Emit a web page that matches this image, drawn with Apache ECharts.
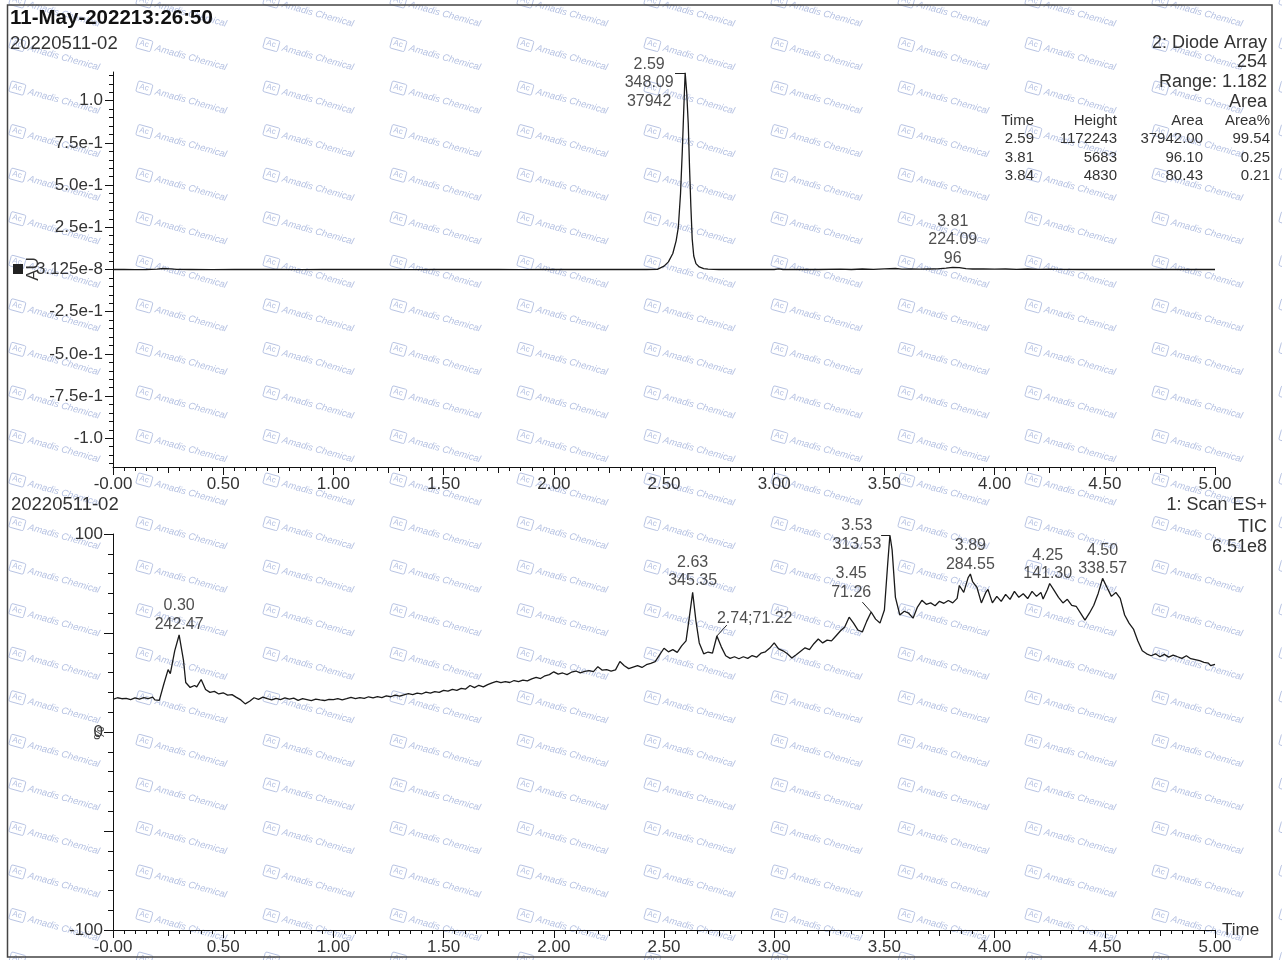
<!DOCTYPE html>
<html><head><meta charset="utf-8">
<script src="https://cdn.jsdelivr.net/npm/echarts@6/dist/echarts.min.js"></script>
<style>html,body{margin:0;padding:0;background:#fff}#c{width:1282px;height:960px}</style>
</head><body><div id="c"></div>
<script>
// ---------- DATA ----------
const dadTime = [0.00,0.05,0.10,0.15,0.20,0.23,0.26,0.29,0.35,0.45,0.55,0.65,0.75,0.85,0.95,1.05,1.15,1.25,1.35,1.45,1.55,1.65,1.75,1.85,1.95,2.05,2.15,2.25,2.35,2.42,2.47,2.50,2.52,2.54,2.555,2.565,2.575,2.583,2.59,2.596,2.603,2.61,2.616,2.622,2.628,2.635,2.645,2.66,2.68,2.70,2.75,2.80,2.85,2.90,2.95,3.00,3.02,3.04,3.10,3.20,3.30,3.35,3.40,3.45,3.50,3.55,3.58,3.62,3.66,3.70,3.74,3.78,3.81,3.84,3.87,3.90,3.95,4.00,4.05,4.10,4.15,4.20,4.25,4.30,4.40,4.50,4.60,4.70,4.80,4.90,5.00];
const dadSignal = [0,0.001,-0.001,0,0.002,0.006,0.004,0.001,0,-0.001,0,0.001,0,-0.001,0,0.001,0,0,-0.001,0,0.001,0,0,-0.001,0,0.001,0,0,0.001,0,0.001,0.02,0.045,0.095,0.17,0.25,0.45,0.70,0.96,1.165,1.05,0.865,0.60,0.37,0.18,0.08,0.035,0.015,0.005,0.002,0,0.001,0,0,0.001,0,0.004,0,0.001,0,0.002,0,0.003,0.001,0.004,0.006,0.002,0.004,0.002,0.003,0.004,0.008,0.013,0.011,0.005,0.003,0.004,0.002,0.003,0.001,0.003,0.001,0.002,0.001,0,0.001,0,0,0.001,0,0];

const ticTime = [0.00,0.02,0.04,0.06,0.08,0.10,0.12,0.14,0.16,0.18,0.19,0.21,0.23,0.25,0.26,0.28,0.30,0.32,0.33,0.35,0.37,0.38,0.40,0.42,0.44,0.46,0.48,0.50,0.52,0.54,0.56,0.58,0.60,0.62,0.64,0.66,0.68,0.70,0.72,0.74,0.76,0.78,0.80,0.82,0.84,0.86,0.88,0.90,0.92,0.94,0.96,0.98,1.00,1.02,1.04,1.06,1.08,1.10,1.12,1.14,1.16,1.18,1.20,1.22,1.24,1.26,1.28,1.30,1.32,1.34,1.36,1.38,1.40,1.42,1.44,1.46,1.48,1.50,1.52,1.54,1.56,1.58,1.60,1.62,1.64,1.66,1.68,1.70,1.72,1.74,1.76,1.78,1.80,1.82,1.84,1.86,1.88,1.90,1.92,1.94,1.96,1.98,2.00,2.02,2.04,2.06,2.08,2.10,2.12,2.14,2.16,2.18,2.20,2.22,2.24,2.26,2.28,2.30,2.32,2.34,2.36,2.38,2.40,2.42,2.44,2.46,2.48,2.50,2.52,2.54,2.56,2.58,2.60,2.615,2.63,2.645,2.66,2.68,2.70,2.72,2.74,2.76,2.78,2.80,2.82,2.84,2.86,2.88,2.90,2.92,2.94,2.96,2.98,3.00,3.02,3.04,3.06,3.08,3.10,3.12,3.14,3.16,3.18,3.20,3.22,3.24,3.26,3.28,3.30,3.32,3.34,3.36,3.38,3.40,3.42,3.44,3.46,3.48,3.50,3.515,3.525,3.535,3.55,3.57,3.59,3.61,3.63,3.65,3.67,3.69,3.71,3.73,3.75,3.77,3.79,3.81,3.83,3.84,3.86,3.88,3.89,3.90,3.92,3.94,3.96,3.97,3.99,4.01,4.03,4.05,4.07,4.09,4.11,4.13,4.15,4.17,4.19,4.21,4.22,4.24,4.25,4.27,4.29,4.31,4.33,4.35,4.37,4.39,4.41,4.43,4.45,4.47,4.49,4.51,4.53,4.55,4.57,4.59,4.61,4.63,4.65,4.67,4.69,4.71,4.73,4.75,4.77,4.79,4.81,4.83,4.85,4.87,4.89,4.91,4.93,4.95,4.97,4.98,5.00];
const ticSignal = [16.5,17.3,16.8,17.0,16.4,17.2,16.6,17.4,16.9,17.6,16.2,16.0,24.0,31.5,29.5,41.0,49.0,36.0,25.0,22.5,23.5,22.8,26.5,21.5,20.0,20.5,19.2,19.8,18.6,18.9,17.5,16.2,14.2,15.5,17.3,16.5,17.6,16.8,16.2,17.0,16.4,17.2,16.6,17.1,16.0,16.8,16.3,15.8,16.6,16.2,15.9,16.5,16.4,16.9,16.2,16.8,17.5,16.9,17.4,17.0,17.8,17.2,17.9,17.4,18.2,17.8,18.6,18.1,18.8,19.4,18.9,19.6,19.2,20.1,19.6,20.4,20.0,21.0,20.6,21.5,21.0,22.0,21.7,23.5,22.4,23.6,22.8,23.9,24.8,25.6,24.9,25.5,25.0,26.0,25.4,26.2,25.8,26.8,27.6,27.0,28.4,29.0,30.4,29.2,29.8,29.0,30.2,30.8,29.9,30.6,31.0,30.5,33.0,31.2,31.5,30.8,31.4,35.6,33.5,32.0,32.8,33.5,32.6,34.0,34.7,35.5,38.9,42.3,40.5,41.6,40.2,43.5,46.0,58.0,70.5,56.0,45.0,39.5,40.4,39.8,48.5,43.0,38.5,37.2,38.0,37.0,38.0,37.2,38.6,37.8,39.8,40.5,42.4,45.0,42.0,41.0,39.5,37.4,39.0,40.8,42.5,41.6,44.6,47.0,45.0,46.4,46.0,48.5,51.0,53.0,58.0,55.0,51.5,50.5,56.0,60.6,57.0,55.0,61.6,85.0,99.5,92.0,68.0,59.1,61.0,60.0,57.5,63.1,66.5,64.5,65.2,63.8,66.0,65.0,66.4,65.2,67.5,74.0,70.5,78.0,79.8,76.0,73.0,65.2,70.5,72.0,65.2,68.5,66.0,69.5,67.0,71.0,68.0,69.8,67.4,71.0,68.5,70.5,67.2,72.0,75.0,71.5,68.0,65.2,67.0,64.0,63.5,60.0,56.5,60.0,64.0,70.0,77.6,73.0,68.5,70.5,67.5,59.1,55.0,52.0,46.0,41.0,39.5,38.5,39.5,38.0,39.2,37.8,38.8,38.0,37.2,38.5,37.0,36.5,36.0,35.2,34.8,33.5,34.2];

const xTickLabels = ['-0.00','0.50','1.00','1.50','2.00','2.50','3.00','3.50','4.00','4.50','5.00'];
const dadYTicks = [-1, -0.75, -0.5, -0.25, 0, 0.25, 0.5, 0.75, 1];
const dadYLabels = ['-1.0','-7.5e-1','-5.0e-1','-2.5e-1','3.125e-8','2.5e-1','5.0e-1','7.5e-1','1.0'];
const ticYTicks = [-100, 0, 100];
const ticYLabels = ['-100','0','100'];

const dadPeakTime = [2.596, 3.81];
const dadPeakValue = [1.165, 0.013];
const dadPeakText = ['2.59\n348.09\n37942', '3.81\n224.09\n96'];

const ticPeakTime = [0.30, 2.63, 2.74, 3.44, 3.525, 3.89, 4.25, 4.49];
const ticPeakValue = [49, 70.5, 48.5, 60.6, 99.5, 79.8, 75, 77.6];
const ticPeakText = ['0.30\n242.47','2.63\n345.35','2.74;71.22','3.45\n71.26','3.53\n313.53','3.89\n284.55','4.25\n141.30','4.50\n338.57'];

const tableHeader = ['Time','Height','Area','Area%'];
const tableRows = [['2.59','1172243','37942.00','99.54'],['3.81','5683','96.10','0.25'],['3.84','4830','80.43','0.21']];

// ---------- CHART ----------
const FONT = '"Liberation Sans", Arial, sans-serif';
const chart = echarts.init(document.getElementById('c'), null, {renderer:'canvas'});
const zip = (a,b) => a.map((t,i)=>[t,b[i]]);
const G = {left:113, width:1102};

function fmtX(v){ const i = Math.round(v/0.5); return Math.abs(v - i*0.5) < 1e-6 ? xTickLabels[i] : ''; }
function lookup(ticks, labels){ return v => { const i = ticks.findIndex(t=>Math.abs(t-v)<1e-6); return i<0?'':labels[i]; }; }

const dadMinor = []; for (let k=-23;k<=23;k++) dadMinor.push(+(k*0.05).toFixed(2));
const ticMid = [-100,-50,0,50,100];
const xMid = [0.25,0.75,1.25,1.75,2.25,2.75,3.25,3.75,4.25,4.75];

const axisCommon = {
  axisLine:{show:true, onZero:false, lineStyle:{color:'#111', width:1}},
  splitLine:{show:false},
};
function xAxisDef(grid){
  return Object.assign({}, axisCommon, {
    type:'value', gridIndex:grid, min:0, max:5, interval:0.5, position:'bottom',
    axisTick:{show:true, length:8, lineStyle:{color:'#111'}},
    minorTick:{show:true, splitNumber:10, length:4, lineStyle:{color:'#111'}},
    minorSplitLine:{show:false},
    axisLabel:{formatter:fmtX, fontSize:17, color:'#333', fontFamily:FONT, margin:9}
  });
}
function xMidDef(grid){
  return {type:'value', gridIndex:grid, min:0, max:5, position:'bottom', axisLine:{show:false, onZero:false}, splitLine:{show:false},
    axisTick:{show:true, length:6, customValues:xMid, lineStyle:{color:'#111'}}, axisLabel:{show:false}};
}

// watermark
const wm = [];
const wc = '#b6c2e2';
for (let i=0;i<11;i++){
  for (let j=-1;j<22;j++){
    wm.push({type:'group', x:10+127*i, y:43+43.55*j, rotation:-0.27, silent:true, z:-10,
      children:[
        {type:'rect', shape:{x:0,y:-6,width:15,height:11,r:1.5}, style:{fill:'none', stroke:wc, lineWidth:0.9}},
        {type:'text', x:2.5, y:-5, style:{text:'Ac', fontSize:8, fontFamily:FONT, fill:wc}},
        {type:'text', x:19, y:-5, style:{text:'Amadis Chemical', fontSize:9.5, fontFamily:FONT, fontStyle:'italic', fill:wc}}
      ]});
  }
}

function txt(x,y,text,opt){
  opt = opt||{};
  const align = opt.align||'left';
  return {type:'text', x:x, y:y, z:50, silent:true, rotation:opt.rot||0, style:{text:text, fontSize:opt.size||18, fontWeight:opt.weight||'normal',
    fontFamily:FONT, fill:opt.color||'#333', align:align, textAlign:align, verticalAlign:'middle', textVerticalAlign:'middle'}};
}
const texts = [
  txt(10,18,'11-May-202213:26:50',{size:20.5, weight:'bold', color:'#111'}),
  txt(10,44,'20220511-02',{size:18.5}),
  txt(11,505,'20220511-02',{size:18.5}),
  txt(1267,43,'2: Diode Array',{align:'right'}),
  txt(1267,62,'254',{align:'right'}),
  txt(1267,82,'Range: 1.182',{align:'right'}),
  txt(1267,102,'Area',{align:'right'}),
  txt(1267,505,'1: Scan ES+',{align:'right'}),
  txt(1267,527,'TIC',{align:'right'}),
  txt(1267,547,'6.51e8',{align:'right'}),
  txt(1222,930,'Time',{size:17}),
  txt(33,269,'AU',{size:17, align:'center', rot:Math.PI/2}),
  txt(100,733,'%',{size:15, align:'center', rot:Math.PI/2, color:'#444'}),
];
const colRight = [1034,1117,1203,1270];
tableHeader.forEach((h,c)=>texts.push(txt(colRight[c],121,h,{align:'right', size:15})));
tableRows.forEach((row,r)=>row.forEach((v,c)=>texts.push(txt(colRight[c],139+18.5*r,v,{align:'right', size:15}))));

const extras = [
  {type:'rect', z:60, silent:true, shape:{x:7.5,y:5,width:1264.5,height:952}, style:{fill:'none', stroke:'#444', lineWidth:1.5}},
  {type:'rect', z:60, silent:true, shape:{x:13,y:264,width:10,height:10}, style:{fill:'#222'}},
];

const labelBase = {show:true, fontSize:16, lineHeight:18.5, color:'#222', fontFamily:FONT};
const dadLabelStyle = [
  {position:'top', distance:0, offset:[-36,38]},
  {position:'top', distance:0, offset:[0,1]}
];
const ticLabelStyle = [
  {position:'top', distance:1},
  {position:'top', distance:2},
  {position:'top', distance:8, align:'left'},
  {position:'top', distance:10, offset:[-20,0]},
  {position:'top', distance:0, offset:[-33,19]},
  {position:'top', distance:0},
  {position:'top', distance:0, offset:[-2,0]},
  {position:'top', distance:0}
];
function peakSeries(xi, yi, times, vals, textsArr, styles){
  return {type:'scatter', xAxisIndex:xi, yAxisIndex:yi, symbol:'circle', symbolSize:1, z:20, silent:true,
    itemStyle:{color:'rgba(0,0,0,0)'},
    data: times.map((t,i)=>({value:[t, vals[i]], name:textsArr[i],
      label:Object.assign({}, labelBase, {formatter:textsArr[i]}, styles[i])}))};
}
const leaderStyle = {symbol:['none','none'], silent:true, animation:false, label:{show:false},
  lineStyle:{color:'#222', width:1, type:'solid'}, emphasis:{disabled:true}};

const option = {
  animation:false,
  backgroundColor:'#fff',
  grid:[
    {left:G.left, width:G.width, top:72, height:395},
    {left:G.left, width:G.width, top:534, height:396}
  ],
  xAxis:[xAxisDef(0), xAxisDef(1), xMidDef(0), xMidDef(1)],
  yAxis:[
    Object.assign({}, axisCommon, {type:'value', gridIndex:0, min:-1.17, max:1.17, position:'left',
      axisTick:{show:true, length:8, customValues:dadYTicks, lineStyle:{color:'#111'}},
      axisLabel:{customValues:dadYTicks, formatter:lookup(dadYTicks,dadYLabels), fontSize:17, color:'#333', fontFamily:FONT, margin:10}}),
    {type:'value', gridIndex:0, min:-1.17, max:1.17, position:'left', axisLine:{show:false, onZero:false}, splitLine:{show:false},
      axisTick:{show:true, length:4, customValues:dadMinor, lineStyle:{color:'#111'}}, axisLabel:{show:false}},
    Object.assign({}, axisCommon, {type:'value', gridIndex:1, min:-100, max:100, position:'left',
      axisTick:{show:true, length:9, customValues:ticMid, lineStyle:{color:'#111'}},
      axisLabel:{customValues:ticYTicks, formatter:lookup(ticYTicks,ticYLabels), fontSize:17, color:'#333', fontFamily:FONT, margin:10}}),
    {type:'value', gridIndex:1, min:-100, max:100, interval:10, position:'left', axisLine:{show:false, onZero:false}, splitLine:{show:false},
      axisTick:{show:true, length:5, lineStyle:{color:'#111'}}, axisLabel:{show:false}}
  ],
  series:[
    {type:'line', xAxisIndex:0, yAxisIndex:0, data:zip(dadTime,dadSignal), showSymbol:false, symbol:'none',
      lineStyle:{color:'#1a1a1a', width:1.3}, z:10, silent:true,
      markLine:Object.assign({}, leaderStyle, {data:[[{coord:[2.55,1.165]},{coord:[2.596,1.165]}]]})},
    {type:'line', xAxisIndex:1, yAxisIndex:2, data:zip(ticTime,ticSignal), showSymbol:false, symbol:'none',
      lineStyle:{color:'#1a1a1a', width:1.3}, z:10, silent:true,
      markLine:Object.assign({}, leaderStyle, {data:[
        [{coord:[2.74,48.5]},{coord:[2.785,54]}],
        [{coord:[3.44,60.6]},{coord:[3.40,65.6]}],
        [{coord:[3.485,99.5]},{coord:[3.525,99.5]}]
      ]})},
    peakSeries(0,0,dadPeakTime,dadPeakValue,dadPeakText,dadLabelStyle),
    peakSeries(1,2,ticPeakTime,ticPeakValue,ticPeakText,ticLabelStyle)
  ],
  graphic: wm.concat(texts, extras)
};
chart.setOption(option);
</script>
</body></html>
